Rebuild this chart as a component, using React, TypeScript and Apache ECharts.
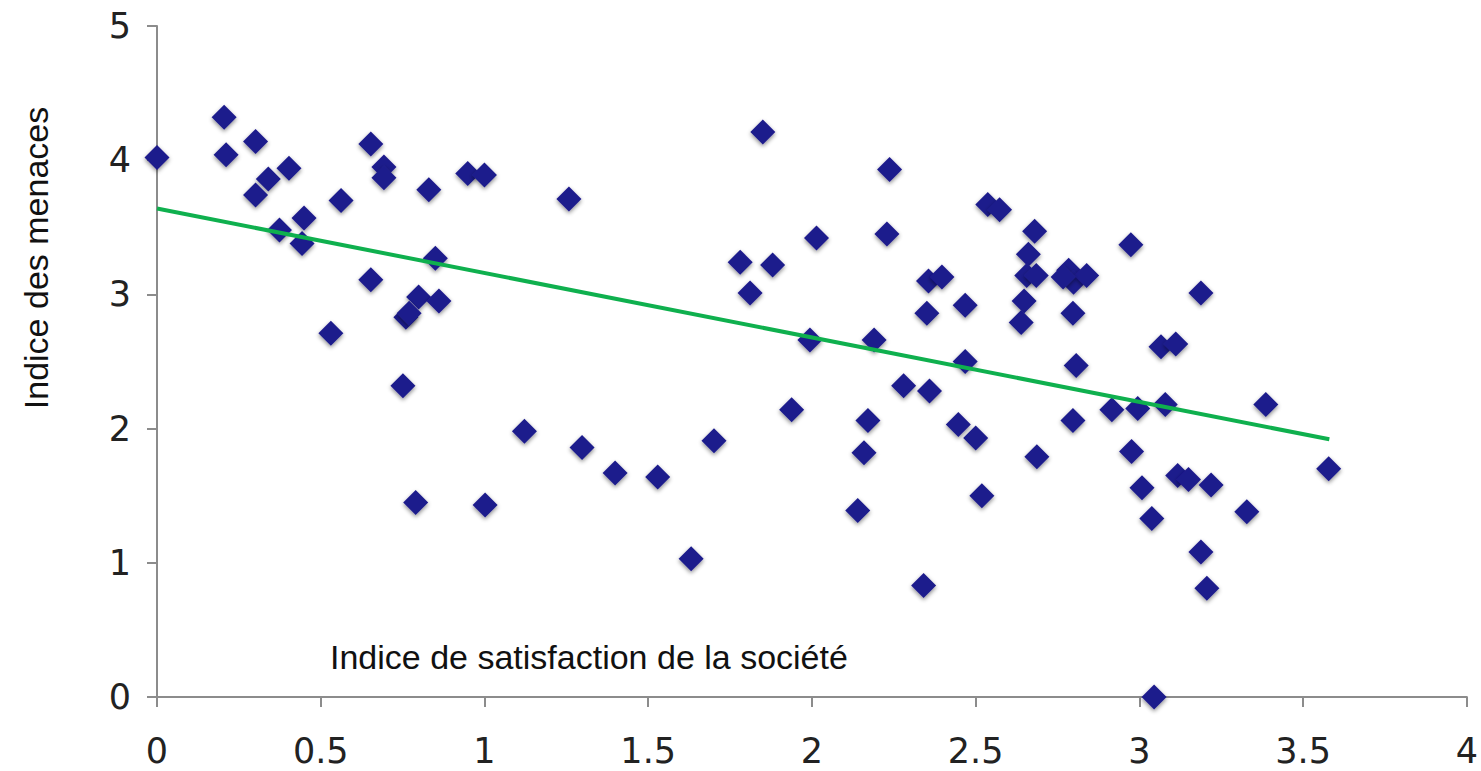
import React, { useEffect, useRef } from "react";
import * as echarts from "echarts";

const satisfaction = [
  0.0, 0.205, 0.211, 0.301, 0.403, 0.34, 0.301, 0.562, 0.653, 0.693, 0.693, 0.83, 0.949, 1.0,
  0.374, 0.449, 0.443, 0.85, 0.653, 0.799, 0.861, 0.76, 0.77, 0.531, 0.751, 0.79, 1.002,
  1.85, 1.258, 2.014, 1.781, 1.88, 1.811, 1.994, 1.938, 1.122, 1.298, 1.399, 1.529, 1.701, 1.631,
  2.237, 2.229, 2.537, 2.573, 2.68, 2.661, 2.656, 2.685, 2.356, 2.397, 2.351, 2.468, 2.648, 2.639,
  2.784, 2.799, 2.839, 2.767, 2.797, 2.974, 2.19,
  2.468, 2.807, 2.28, 2.359, 2.171, 2.447, 2.5, 2.797, 2.916, 2.995, 2.159, 2.687, 2.976, 2.519,
  2.14, 2.341,
  3.188, 3.066, 3.111, 3.079, 3.386, 3.008, 3.038, 3.117, 3.15, 3.219, 3.328, 3.188, 3.206, 3.578, 3.045,
];

const menaces = [
  4.02, 4.32, 4.04, 4.14, 3.94, 3.86, 3.74, 3.7, 4.12, 3.95, 3.87, 3.78, 3.9, 3.89,
  3.48, 3.57, 3.38, 3.27, 3.11, 2.98, 2.95, 2.83, 2.86, 2.71, 2.32, 1.45, 1.43,
  4.21, 3.71, 3.42, 3.24, 3.22, 3.01, 2.66, 2.14, 1.98, 1.86, 1.67, 1.64, 1.91, 1.03,
  3.93, 3.45, 3.67, 3.63, 3.47, 3.3, 3.14, 3.14, 3.1, 3.13, 2.86, 2.92, 2.95, 2.79,
  3.18, 3.09, 3.14, 3.13, 2.86, 3.37, 2.66,
  2.5, 2.47, 2.32, 2.28, 2.06, 2.03, 1.93, 2.06, 2.14, 2.15, 1.82, 1.79, 1.83, 1.5,
  1.39, 0.83,
  3.01, 2.61, 2.63, 2.18, 2.18, 1.56, 1.33, 1.65, 1.62, 1.58, 1.38, 1.08, 0.81, 1.7, 0.0,
];

const trendX = [0, 3.58];
const trendY = [3.64, 1.92];

const xTicks = ["0", "0.5", "1", "1.5", "2", "2.5", "3", "3.5", "4"];
const xTitle = "Indice de satisfaction de la société";
const yTitle = "Indice des menaces";

export default function App() {
  const ref = useRef<HTMLDivElement>(null);
  useEffect(() => {
    if (!ref.current) return;
    const chart = echarts.init(ref.current, null, { renderer: "svg" });
    const tickFont = "'DejaVu Sans', sans-serif";
    const titleFont = "'Liberation Sans Narrow', 'Arial Narrow', 'Liberation Sans', sans-serif";
    chart.setOption({
      animation: false,
      backgroundColor: "#ffffff",
      grid: { left: 157, top: 26, width: 1310, height: 671, containLabel: false },
      xAxis: {
        type: "value",
        min: 0,
        max: 4,
        interval: 0.5,
        axisLine: { show: true, lineStyle: { color: "#8c8c8c", width: 2 } },
        axisTick: { show: true, length: 10, lineStyle: { color: "#8c8c8c", width: 2 } },
        splitLine: { show: false },
        axisLabel: {
          margin: 38,
          fontSize: 35,
          lineHeight: 32,
          color: "#222",
          fontFamily: tickFont,
          formatter: (v: number) => xTicks[Math.round(v / 0.5)] ?? String(v),
        },
      },
      yAxis: {
        type: "value",
        min: 0,
        max: 5,
        interval: 1,
        axisLine: { show: true, lineStyle: { color: "#8c8c8c", width: 2 } },
        axisTick: { show: true, length: 10, lineStyle: { color: "#8c8c8c", width: 2 } },
        splitLine: { show: false },
        axisLabel: { margin: 26, fontSize: 35, color: "#222", fontFamily: tickFont },
      },
      series: [
        {
          type: "line",
          data: trendX.map((x, i) => [x, trendY[i]]),
          symbol: "none",
          lineStyle: { color: "#0fb04e", width: 4 },
          z: 3,
        },
        {
          type: "scatter",
          data: satisfaction.map((x, i) => [x, menaces[i]]),
          symbol: "diamond",
          symbolSize: 25,
          itemStyle: {
            color: "#1f1b8c",
            opacity: 1,
            shadowBlur: 4,
            shadowOffsetY: 2,
            shadowColor: "rgba(0,0,0,0.45)",
          },
          z: 2,
        },
      ],
      graphic: [
        {
          type: "text",
          left: 330,
          top: 640,
          style: { text: xTitle, fontSize: 34, fill: "#111", fontFamily: titleFont },
        },
        {
          type: "text",
          x: 36,
          y: 258,
          rotation: Math.PI / 2,
          style: {
            text: yTitle,
            fontSize: 34,
            fill: "#111",
            fontFamily: titleFont,
            align: "center",
            verticalAlign: "middle",
          },
        },
      ],
    });
    return () => chart.dispose();
  }, []);
  return (
    <div
      ref={ref}
      style={{ position: "absolute", left: 0, top: 0, width: 1481, height: 771 }}
    />
  );
}
